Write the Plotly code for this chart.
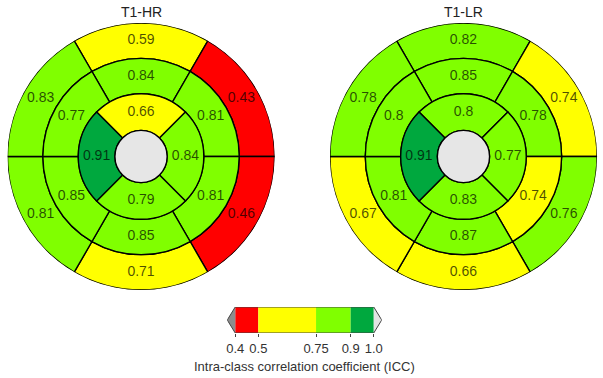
import plotly.graph_objects as go

# ---------------- data ----------------
panel_titles = ["T1-HR", "T1-LR"]
# segment order (basal / mid): top, upper-right, lower-right, bottom, lower-left, upper-left
hr_basal = [0.59, 0.43, 0.46, 0.71, 0.81, 0.83]
hr_mid = [0.84, 0.81, 0.81, 0.85, 0.85, 0.77]
# apical order: top, right, bottom, left
hr_apical = [0.66, 0.84, 0.79, 0.91]
lr_basal = [0.82, 0.74, 0.76, 0.66, 0.67, 0.78]
lr_mid = [0.85, 0.78, 0.74, 0.87, 0.81, 0.8]
lr_apical = [0.8, 0.77, 0.83, 0.91]

cb_bounds = [0.4, 0.5, 0.75, 0.9, 1.0]
cb_colors = ["#FF0000", "#FFFF00", "#80FF00", "#00A83E"]
cb_ticklabels = ["0.4", "0.5", "0.75", "0.9", "1.0"]
cb_title = "Intra-class correlation coefficient (ICC)"

# ---------------- geometry / style ----------------
W, H = 603, 378
FONT = "Liberation Sans, Arial, sans-serif"
six_theta = [90, 30, 330, 270, 210, 150]
four_theta = [90, 0, 270, 180]
R_APEX, R_IN, R_MID, R_OUT = 26.2 / 134, 63 / 134, 98.5 / 134, 1.0
LINE = dict(color="black", width=1.4)
TXT = dict(family=FONT, size=14, color="rgba(0,0,0,0.7)")


def color_of(v):
    for i in range(len(cb_colors)):
        if cb_bounds[i] <= v < cb_bounds[i + 1] or (i == len(cb_colors) - 1 and v <= cb_bounds[-1]):
            return cb_colors[i]
    return "#888888"


fig = go.Figure()
panels = [(hr_basal, hr_mid, hr_apical), (lr_basal, lr_mid, lr_apical)]
centers_px = [140.5, 464.0]
cy_px = 156.5
rad_px = 134.0

for k, (basal, mid, apical) in enumerate(panels):
    pname = "polar" if k == 0 else "polar2"
    rings = [
        (basal, six_theta, 60, R_MID, R_OUT),
        (mid, six_theta, 60, R_IN, R_MID),
        (apical, four_theta, 90, R_APEX, R_IN),
    ]
    for vals, thetas, wdt, r0, r1 in rings:
        fig.add_trace(go.Barpolar(
            r=[r1 - r0] * len(vals), base=[r0] * len(vals), theta=thetas,
            width=[wdt] * len(vals),
            marker=dict(color=[color_of(v) for v in vals], line=LINE),
            subplot=pname, showlegend=False, hoverinfo="skip"))
    # apex
    fig.add_trace(go.Barpolar(
        r=[R_APEX], base=[0], theta=[0], width=[360],
        marker=dict(color="#E6E6E6", line=LINE),
        subplot=pname, showlegend=False, hoverinfo="skip"))
    # labels
    for vals, thetas, wdt, r0, r1 in rings:
        fig.add_trace(go.Scatterpolar(
            r=[(r0 + r1) / 2] * len(vals), theta=thetas, mode="text",
            text=[f"{v:g}" for v in vals], textfont=TXT,
            subplot=pname, showlegend=False, hoverinfo="skip"))

polar_common = dict(
    bgcolor="rgba(0,0,0,0)",
    radialaxis=dict(visible=False, range=[0, 1]),
    angularaxis=dict(visible=False, rotation=0, direction="counterclockwise"),
    bargap=0,
)
layout_polars = {}
for k, cx in enumerate(centers_px):
    pname = "polar" if k == 0 else "polar2"
    layout_polars[pname] = dict(
        domain=dict(x=[(cx - rad_px) / W, (cx + rad_px) / W],
                    y=[1 - (cy_px + rad_px) / H, 1 - (cy_px - rad_px) / H]),
        **polar_common)

# ---------------- colorbar ----------------
ext = 0.0345
for i, c in enumerate(cb_colors):
    fig.add_trace(go.Bar(
        x=[cb_bounds[i + 1] - cb_bounds[i]], base=[cb_bounds[i]], y=[0.5],
        orientation="h", width=1, marker=dict(color=c, line=dict(width=0)),
        xaxis="x", yaxis="y", showlegend=False, hoverinfo="skip"))
lo, hi = cb_bounds[0], cb_bounds[-1]
fig.add_trace(go.Scatter(x=[lo, lo - ext, lo, lo], y=[0, 0.5, 1, 0], fill="toself",
                         fillcolor="#8C8C8C", mode="lines", line=dict(width=0),
                         xaxis="x", yaxis="y", showlegend=False, hoverinfo="skip"))
fig.add_trace(go.Scatter(x=[hi, hi + ext, hi, hi], y=[0, 0.5, 1, 0], fill="toself",
                         fillcolor="#E4E4E4", mode="lines", line=dict(width=0),
                         xaxis="x", yaxis="y", showlegend=False, hoverinfo="skip"))
fig.add_trace(go.Scatter(x=[lo, lo - ext, lo, hi, hi + ext, hi, lo], y=[0, 0.5, 1, 1, 0.5, 0, 0],
                         mode="lines", line=dict(color="#444444", width=1),
                         xaxis="x", yaxis="y", showlegend=False, hoverinfo="skip"))

px_per_unit = 139 / (hi - lo)
x0_px = 235 - ext * px_per_unit
x1_px = 374 + ext * px_per_unit

fig.update_layout(
    width=W, height=H, margin=dict(l=0, r=0, t=0, b=0),
    paper_bgcolor="white", plot_bgcolor="rgba(0,0,0,0)",
    barmode="overlay",
    xaxis=dict(domain=[x0_px / W, x1_px / W], range=[lo - ext, hi + ext],
               tickvals=cb_bounds, ticktext=cb_ticklabels, ticks="outside",
               ticklen=3, tickcolor="#444444", showgrid=False, zeroline=False,
               showline=False, tickfont=dict(family=FONT, size=13, color="#333333"),
               fixedrange=True),
    yaxis=dict(domain=[1 - 333 / H, 1 - 307 / H], range=[0, 1], visible=False,
               fixedrange=True),
    annotations=[
        dict(text=panel_titles[0], x=centers_px[0] / W, y=1 - 12.5 / H, xref="paper", yref="paper",
             xanchor="center", yanchor="middle",
             showarrow=False, font=dict(family=FONT, size=14, color="#222222")),
        dict(text=panel_titles[1], x=centers_px[1] / W, y=1 - 12.5 / H, xref="paper", yref="paper",
             xanchor="center", yanchor="middle",
             showarrow=False, font=dict(family=FONT, size=14, color="#222222")),
        dict(text=cb_title, x=305 / W, y=1 - 366 / H, xref="paper", yref="paper",
             xanchor="center", yanchor="middle",
             showarrow=False, font=dict(family=FONT, size=13, color="#333333")),
    ],
    **layout_polars,
)

fig.write_html("out.html", config={"displayModeBar": False, "staticPlot": True},
               post_script="document.body.style.margin='0';")
